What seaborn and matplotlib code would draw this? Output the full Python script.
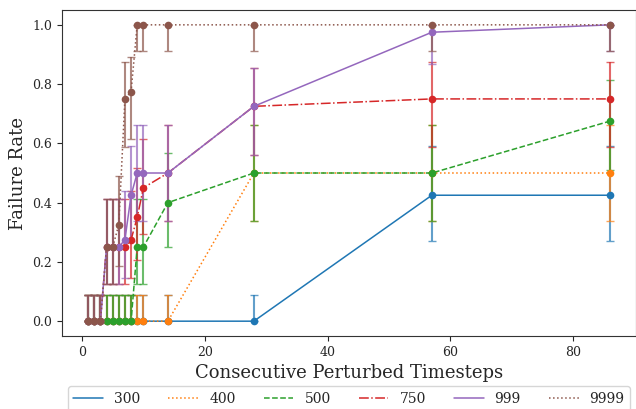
import numpy as np
import pandas as pd
import matplotlib
matplotlib.use("Agg")
import matplotlib.pyplot as plt
from matplotlib.lines import Line2D
import seaborn as sns

# ---- data ----
timesteps = [1, 2, 3, 4, 5, 6, 7, 8, 9, 10, 14, 28, 57, 86]
labels = ["300", "400", "500", "750", "999", "9999"]

rate_300 = [0, 0, 0, 0, 0, 0, 0, 0, 0, 0, 0, 0, 0.425, 0.425]
lo_300 = [0, 0, 0, 0, 0, 0, 0, 0, 0, 0, 0, 0, 0.270, 0.270]
hi_300 = [0.088] * 12 + [0.591, 0.591]

rate_400 = [0] * 11 + [0.5, 0.5, 0.5]
lo_400 = [0] * 11 + [0.338, 0.338, 0.338]
hi_400 = [0.088] * 11 + [0.662, 0.662, 0.662]

rate_500 = [0, 0, 0, 0, 0, 0, 0, 0, 0.25, 0.25, 0.4, 0.5, 0.5, 0.675]
lo_500 = [0, 0, 0, 0, 0, 0, 0, 0, 0.127, 0.127, 0.249, 0.338, 0.338, 0.509]
hi_500 = [0.088] * 8 + [0.412, 0.412, 0.567, 0.662, 0.662, 0.814]

rate_750 = [0, 0, 0, 0.25, 0.25, 0.25, 0.25, 0.275, 0.35, 0.45, 0.5, 0.725, 0.75, 0.75]
lo_750 = [0, 0, 0, 0.127, 0.127, 0.127, 0.127, 0.146, 0.206, 0.293, 0.338, 0.561, 0.588, 0.588]
hi_750 = [0.088, 0.088, 0.088, 0.412, 0.412, 0.412, 0.412, 0.439, 0.517, 0.615, 0.662, 0.854, 0.873, 0.873]

rate_999 = [0, 0, 0, 0.25, 0.25, 0.25, 0.275, 0.425, 0.5, 0.5, 0.5, 0.725, 0.975, 1.0]
lo_999 = [0, 0, 0, 0.127, 0.127, 0.127, 0.146, 0.270, 0.338, 0.338, 0.338, 0.561, 0.868, 0.912]
hi_999 = [0.088, 0.088, 0.088, 0.412, 0.412, 0.412, 0.439, 0.591, 0.662, 0.662, 0.662, 0.854, 0.999, 1.0]

rate_9999 = [0, 0, 0, 0.25, 0.25, 0.325, 0.75, 0.775, 1, 1, 1, 1, 1, 1]
lo_9999 = [0, 0, 0, 0.127, 0.127, 0.186, 0.588, 0.616, 0.912, 0.912, 0.912, 0.912, 0.912, 0.912]
hi_9999 = [0.088, 0.088, 0.088, 0.412, 0.412, 0.491, 0.873, 0.892, 1, 1, 1, 1, 1, 1]

rates = [rate_300, rate_400, rate_500, rate_750, rate_999, rate_9999]
los = [lo_300, lo_400, lo_500, lo_750, lo_999, lo_9999]
his = [hi_300, hi_400, hi_500, hi_750, hi_999, hi_9999]

# ---- style ----
sns.set_style("ticks")
plt.rcParams["font.family"] = ["DejaVu Serif"]
colors = sns.color_palette("tab10", 6)
linestyles = ["-", ":", "--", "-.", "-", ":"]

fig = plt.figure(figsize=(6.36, 4.09), dpi=100)
ax = fig.add_axes([0.0975, 0.1785, 0.9025, 0.797])

handles = []
for name, r, lo, hi, c, ls in zip(labels, rates, los, his, colors, linestyles):
    r = np.array(r, dtype=float)
    yerr = np.vstack([r - np.array(lo), np.array(hi) - r])
    ax.errorbar(timesteps, r, yerr=yerr, fmt="none", ecolor=c, elinewidth=1.5,
                capsize=3, alpha=0.7, zorder=2)
    df = pd.DataFrame({"t": timesteps, "rate": r})
    sns.lineplot(data=df, x="t", y="rate", ax=ax, color=c, linestyle=ls,
                 marker="o", markersize=5.5, markeredgewidth=0, linewidth=1.1,
                 errorbar=None, zorder=3)
    handles.append(Line2D([0], [0], color=c, linestyle=ls, linewidth=1.1, label=name))

ax.set_xlabel("Consecutive Perturbed Timesteps", fontsize=13)
ax.set_ylabel("Failure Rate", fontsize=13)
ax.set_xticks([0, 20, 40, 60, 80])
ax.set_yticks([0.0, 0.2, 0.4, 0.6, 0.8, 1.0])
ax.tick_params(labelsize=9)
for s in ax.spines.values():
    s.set_color("#333333")

ax.legend(handles=handles, loc="upper center", bbox_to_anchor=(0.5, -0.132),
          ncol=6, fontsize=10, frameon=True, columnspacing=2.0,
          handlelength=2.15, handletextpad=0.8)

fig.savefig("out.png", dpi=100)
